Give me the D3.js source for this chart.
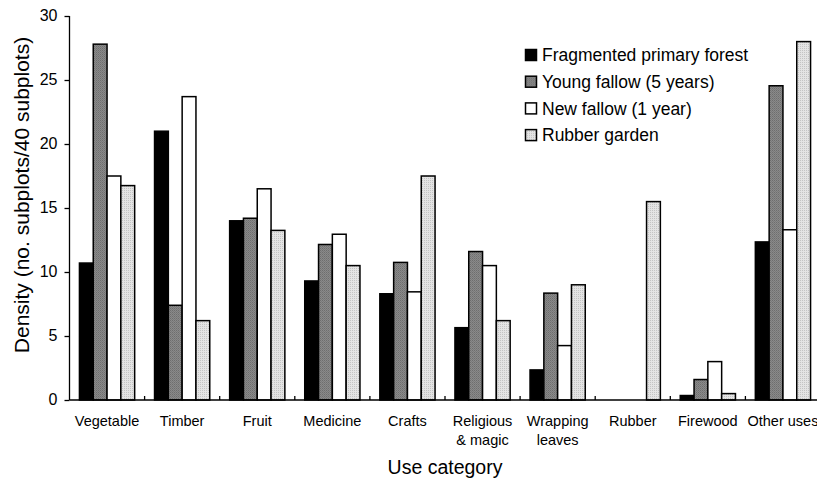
<!DOCTYPE html>
<html>
<head>
<meta charset="utf-8">
<script src="https://cdn.jsdelivr.net/npm/d3@7"></script>
<style>
  html, body { margin: 0; padding: 0; background: #fff; }
  svg { display: block; font-family: "Liberation Sans", Arial, sans-serif; }
</style>
</head>
<body>
<svg id="chart" width="817" height="482"></svg>
<script>
// Use categories (two-line labels split on "\n")
const categories = ["Vegetable", "Timber", "Fruit", "Medicine", "Crafts",
  "Religious\n& magic", "Wrapping\nleaves", "Rubber", "Firewood", "Other uses"];

// Series names
const seriesNames = ["Fragmented primary forest", "Young fallow (5 years)",
  "New fallow (1 year)", "Rubber garden"];

// Density values per series, in category order
const primaryForest = [10.7, 21.0, 14.0, 9.3, 8.3, 5.65, 2.35, 0, 0.35, 12.35];
const youngFallow   = [27.8, 7.4, 14.2, 12.15, 10.75, 11.6, 8.35, 0, 1.6, 24.55];
const newFallow     = [17.5, 23.7, 16.5, 12.95, 8.45, 10.5, 4.25, 0, 3.0, 13.3];
const rubberGarden  = [16.75, 6.2, 13.25, 10.5, 17.5, 6.2, 9.0, 15.5, 0.5, 28.0];

const yTicks = [0, 5, 10, 15, 20, 25, 30];
const yTitle = "Density (no. subplots/40 subplots)";
const xTitle = "Use category";

const seriesValues = [primaryForest, youngFallow, newFallow, rubberGarden];
const fills = ["#000", "url(#patGray)", "#fff", "url(#patLight)"];

const svg = d3.select("#chart");

// Fill textures for the grey and light-grey series
const defs = svg.append("defs");
const pg = defs.append("pattern").attr("id", "patGray")
  .attr("patternUnits", "userSpaceOnUse").attr("width", 2).attr("height", 2);
pg.append("rect").attr("width", 2).attr("height", 2).attr("fill", "#8a8a8a");
pg.append("rect").attr("width", 1).attr("height", 1).attr("fill", "#6e6e6e");
pg.append("rect").attr("x", 1).attr("y", 1).attr("width", 1).attr("height", 1).attr("fill", "#7a7a7a");

const pl = defs.append("pattern").attr("id", "patLight")
  .attr("patternUnits", "userSpaceOnUse").attr("width", 2).attr("height", 2);
pl.append("rect").attr("width", 2).attr("height", 2).attr("fill", "#e4e4e4");
pl.append("rect").attr("width", 1).attr("height", 1).attr("fill", "#c4c4c4");

const plotLeft = 69.5, plotRight = 820.5, plotTop = 16, plotBottom = 400;

const x = d3.scaleBand().domain(d3.range(categories.length)).range([plotLeft, plotRight]).padding(0);
const xs = d3.scaleBand().domain(d3.range(seriesNames.length))
  .range([0, x.bandwidth()]).paddingInner(0).paddingOuter(0.72);
const y = d3.scaleLinear().domain([0, 30]).range([plotBottom, plotTop]);

// Bars
seriesValues.forEach((vals, s) => {
  svg.append("g").selectAll("rect").data(vals).join("rect")
    .attr("x", (d, i) => x(i) + xs(s))
    .attr("y", d => y(d))
    .attr("width", xs.bandwidth())
    .attr("height", d => y(0) - y(d))
    .attr("fill", fills[s])
    .attr("stroke", "#000")
    .attr("stroke-width", 1.5)
    .attr("display", d => d > 0 ? null : "none");
});

// Y axis
const yAxis = svg.append("g").attr("transform", `translate(${plotLeft},0)`)
  .call(d3.axisLeft(y).tickValues(yTicks).tickSize(5).tickPadding(7).tickFormat(d3.format("d")));
yAxis.select(".domain").attr("stroke", "#000").attr("stroke-width", 1.3).attr("d", `M0,${plotTop}V${plotBottom}`);
yAxis.selectAll(".tick line").attr("stroke", "#000").attr("stroke-width", 1.3);
yAxis.selectAll(".tick text").attr("font-size", 16).attr("fill", "#000")
  .attr("font-family", "Liberation Sans, Arial, sans-serif").attr("dy", "0.3em");

// X axis line with category boundary ticks pointing up
const xAxis = svg.append("g");
xAxis.append("line").attr("x1", plotLeft).attr("x2", 817).attr("y1", plotBottom).attr("y2", plotBottom)
  .attr("stroke", "#000").attr("stroke-width", 1.3);
xAxis.selectAll("line.tk").data(d3.range(1, categories.length + 1)).join("line")
  .attr("class", "tk")
  .attr("x1", i => x(i - 1) + x.bandwidth()).attr("x2", i => x(i - 1) + x.bandwidth())
  .attr("y1", plotBottom).attr("y2", plotBottom - 4)
  .attr("stroke", "#000").attr("stroke-width", 1.3);

// Category labels
const lbl = svg.append("g").selectAll("text").data(categories).join("text")
  .attr("text-anchor", "middle")
  .attr("font-size", 14.5)
  .attr("fill", "#000")
  .attr("x", (d, i) => x(i) + x.bandwidth() / 2)
  .attr("y", 426);
lbl.each(function(d) {
  const t = d3.select(this);
  d.split("\n").forEach((line, k) => {
    t.append("tspan").attr("x", t.attr("x")).attr("dy", k === 0 ? 0 : 19).text(line);
  });
});

// Axis titles
svg.append("text")
  .attr("transform", `translate(28.5,195) rotate(-90)`)
  .attr("text-anchor", "middle").attr("font-size", 21).attr("fill", "#000")
  .text(yTitle);
svg.append("text")
  .attr("x", (plotLeft + plotRight) / 2).attr("y", 474)
  .attr("text-anchor", "middle").attr("font-size", 19.5).attr("fill", "#000")
  .text(xTitle);

// Legend
const legend = svg.append("g").attr("transform", "translate(525,55)");
const li = legend.selectAll("g").data(seriesNames).join("g")
  .attr("transform", (d, i) => `translate(0,${i * 26.7})`);
li.append("rect").attr("x", 0.5).attr("y", -5.5).attr("width", 11).attr("height", 11)
  .attr("fill", (d, i) => fills[i]).attr("stroke", "#000").attr("stroke-width", 1.5);
li.append("text").attr("x", 17).attr("y", 0).attr("dy", "0.36em")
  .attr("font-size", 17.5).attr("fill", "#000").text(d => d);
</script>
</body>
</html>
